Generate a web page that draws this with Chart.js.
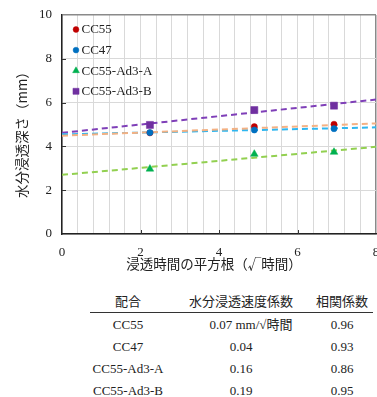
<!DOCTYPE html>
<html>
<head>
<meta charset="utf-8">
<script src="https://cdn.jsdelivr.net/npm/chart.js@4.4.1/dist/chart.umd.min.js"></script>
<style>
  html, body { margin: 0; padding: 0; background: #fff; width: 377px; height: 397px; overflow: hidden; }
  #wrap { position: relative; width: 377px; height: 397px; }
  #chart { position: absolute; left: 0; top: 0; }
  #coef {
    position: absolute; left: 90px; top: 290px;
    border-collapse: collapse;
    font-family: 'Liberation Serif', 'Times New Roman', serif;
    font-size: 13px; color: #222;
  }
  #coef th, #coef td { padding: 0; height: 22px; line-height: 22px; text-align: center; white-space: nowrap; }
  #coef th { font-family: 'Noto Sans CJK JP', sans-serif; font-weight: normal; border-bottom: 1px solid #333; }
  #coef .c1 { width: 76px; }
  #coef .c2 { width: 130px; }
  #coef .c3 { width: 52px; padding-right: 5px; }
  #coef .jp { font-family: 'Noto Sans CJK JP', sans-serif; }
</style>
</head>
<body>
<div id="wrap">
  <canvas id="chart" width="377" height="282"></canvas>
  <table id="coef">
    <thead>
      <tr><th class="c1">配合</th><th class="c2">水分浸透速度係数</th><th class="c3">相関係数</th></tr>
    </thead>
    <tbody id="coefBody"></tbody>
  </table>
</div>
<script>
// Square root of immersion time (√hours) at each measurement
const sqrtHours = [2.24, 4.90, 6.93];

// Measured penetration depth (mm) per mix
const depthCC55 = [4.62, 4.90, 5.01];
const depthCC47 = [4.63, 4.75, 4.81];
const depthAd3A = [2.97, 3.65, 3.74];
const depthAd3B = [4.98, 5.66, 5.86];

// Mixes, penetration rate coefficients (mm/√h), correlation coefficients
const mixNames = ['CC55', 'CC47', 'CC55-Ad3-A', 'CC55-Ad3-B'];
const rateCoef = [0.07, 0.04, 0.16, 0.19];
const corrCoef = [0.96, 0.93, 0.86, 0.95];
// Intercepts (mm) of the linear fits
const fitIntercept = [4.49, 4.55, 2.70, 4.62];

// Axis ranges and labelled ticks
const xRange = [0, 8];
const yRange = [0, 10];
const xLabelTicks = [0, 2, 4, 6, 8];
const yLabelTicks = [0, 2, 4, 6, 8, 10];

const seriesDepths = [depthCC55, depthCC47, depthAd3A, depthAd3B];
const markerColors = ['#C00000', '#0070C0', '#00B050', '#7030A0'];
const markerShapes = ['circle', 'circle', 'triangle', 'rect'];
const markerRadius = [3.1, 3.1, 4.4, 5.0];
const lineColors = ['#F4B183', '#2EB6F0', '#92D050', '#7F3FB8'];
const markerOrder = [4, 3, 2, 1];

const datasets = [];
// dashed linear fits, drawn beneath the measured points
mixNames.forEach((name, i) => {
  datasets.push({
    label: name + ' fit',
    data: xRange.map(x => ({ x: x, y: fitIntercept[i] + rateCoef[i] * x })),
    showLine: true,
    borderColor: lineColors[i],
    borderWidth: 2,
    borderDash: [6, 4],
    pointRadius: 0,
    order: 10 + i
  });
});
mixNames.forEach((name, i) => {
  datasets.push({
    label: name,
    data: sqrtHours.map((x, k) => ({ x: x, y: seriesDepths[i][k] })),
    showLine: false,
    pointStyle: markerShapes[i],
    pointRadius: markerRadius[i],
    pointBackgroundColor: markerColors[i],
    pointBorderColor: markerColors[i],
    pointBorderWidth: 0.5,
    order: markerOrder[i]
  });
});

const serif = "'Liberation Serif', 'Times New Roman', serif";
const gothic = "'Noto Sans CJK JP', sans-serif";

// Legend drawn inside the plot area, top-left
const innerLegend = {
  id: 'innerLegend',
  afterDatasetsDraw(chart) {
    const { ctx, chartArea } = chart;
    const legendR = [2.9, 2.9, 3.9, 4.3];
    ctx.save();
    ctx.font = '13px ' + serif;
    ctx.textBaseline = 'middle';
    mixNames.forEach((name, i) => {
      const y = chartArea.top + 14.5 + i * 20.6;
      const x = chartArea.left + 14;
      ctx.fillStyle = markerColors[i];
      ctx.strokeStyle = markerColors[i];
      ctx.lineWidth = 0.5;
      Chart.helpers.drawPoint(ctx, { pointStyle: markerShapes[i], radius: legendR[i], rotation: 0, borderWidth: 0.5 }, x, y);
      ctx.fillStyle = '#222';
      ctx.textAlign = 'left';
      ctx.fillText(name, x + 5.5, y + 0.5);
    });
    ctx.restore();
  }
};

// Inward tick marks and axis titles
const axisDecor = {
  id: 'axisDecor',
  afterDraw(chart) {
    const { ctx, chartArea, scales } = chart;
    ctx.save();
    ctx.strokeStyle = '#333';
    ctx.lineWidth = 1;
    yLabelTicks.slice(1, -1).forEach(v => {
      const py = Math.round(scales.y.getPixelForValue(v)) + 0.5;
      ctx.beginPath(); ctx.moveTo(chartArea.left, py); ctx.lineTo(chartArea.left + 4, py); ctx.stroke();
    });
    xLabelTicks.slice(1, -1).forEach(v => {
      const px = Math.round(scales.x.getPixelForValue(v)) + 0.5;
      ctx.beginPath(); ctx.moveTo(px, chartArea.bottom); ctx.lineTo(px, chartArea.bottom - 4); ctx.stroke();
    });

    ctx.fillStyle = '#222';
    ctx.font = '13.5px ' + gothic;
    ctx.textAlign = 'center';
    ctx.textBaseline = 'middle';
    ctx.fillText('浸透時間の平方根（√時間）', (chartArea.left + chartArea.right) / 2 - 5, chartArea.bottom + 30);

    ctx.translate(22, (chartArea.top + chartArea.bottom) / 2 + 7);
    ctx.rotate(-Math.PI / 2);
    ctx.fillText('水分浸透深さ（mm）', 0, 0);
    ctx.restore();
  }
};

const onLabel = (v, list) => list.some(t => Math.abs(t - v) < 1e-6);

function drawChart() {
  new Chart(document.getElementById('chart'), {
    type: 'scatter',
    data: { datasets: datasets },
    plugins: [innerLegend, axisDecor],
    options: {
      responsive: false,
      animation: false,
      devicePixelRatio: 1,
      layout: { autoPadding: false, padding: { top: 15, right: 1, left: 0, bottom: 0 } },
      plugins: { legend: { display: false }, tooltip: { enabled: false } },
      scales: {
        x: {
          type: 'linear', min: xRange[0], max: xRange[1],
          afterFit(scale) { scale.height = 48; scale.paddingLeft = 0; scale.paddingRight = 0; },
          ticks: {
            stepSize: 0.4, autoSkip: false, maxRotation: 0, padding: 11,
            color: '#222', font: { family: serif, size: 13 },
            callback: v => onLabel(v, xLabelTicks) ? String(Math.round(v)) : ''
          },
          grid: {
            drawTicks: false,
            color: c => (Math.abs(c.tick.value - xRange[1]) < 1e-6 ? '#8a8a8a' : '#d9d9d9'),
            lineWidth: c => (Math.abs(c.tick.value - xRange[1]) < 1e-6 ? 1.5 : 1)
          },
          border: { color: '#222', width: 1.5 }
        },
        y: {
          type: 'linear', min: yRange[0], max: yRange[1],
          afterFit(scale) { scale.width = 62; scale.paddingTop = 0; scale.paddingBottom = 0; },
          ticks: {
            stepSize: 2, padding: 10,
            color: '#222', font: { family: serif, size: 13 },
            callback: v => String(v)
          },
          grid: {
            drawTicks: false,
            color: c => (Math.abs(c.tick.value - yRange[1]) < 1e-6 ? '#8a8a8a' : '#d9d9d9'),
            lineWidth: c => (Math.abs(c.tick.value - yRange[1]) < 1e-6 ? 1.5 : 1)
          },
          border: { color: '#222', width: 1.5 }
        }
      }
    }
  });
}

// make sure the canvas fonts are ready before drawing
Promise.all([
  document.fonts.load("13px 'Liberation Serif'"),
  document.fonts.load("13.5px 'Noto Sans CJK JP'", '浸透時間')
]).then(drawChart, drawChart);

// Coefficient table
const body = document.getElementById('coefBody');
mixNames.forEach((name, i) => {
  const tr = document.createElement('tr');
  const rate = rateCoef[i].toFixed(2);
  const rateCell = i === 0
    ? '<td class="c2" style="padding-left:20px">' + rate + ' mm/√<span class="jp">時間</span></td>'
    : '<td class="c2">' + rate + '</td>';
  tr.innerHTML = '<td class="c1">' + name + '</td>' + rateCell + '<td class="c3">' + corrCoef[i].toFixed(2) + '</td>';
  body.appendChild(tr);
});
</script>
</body>
</html>
